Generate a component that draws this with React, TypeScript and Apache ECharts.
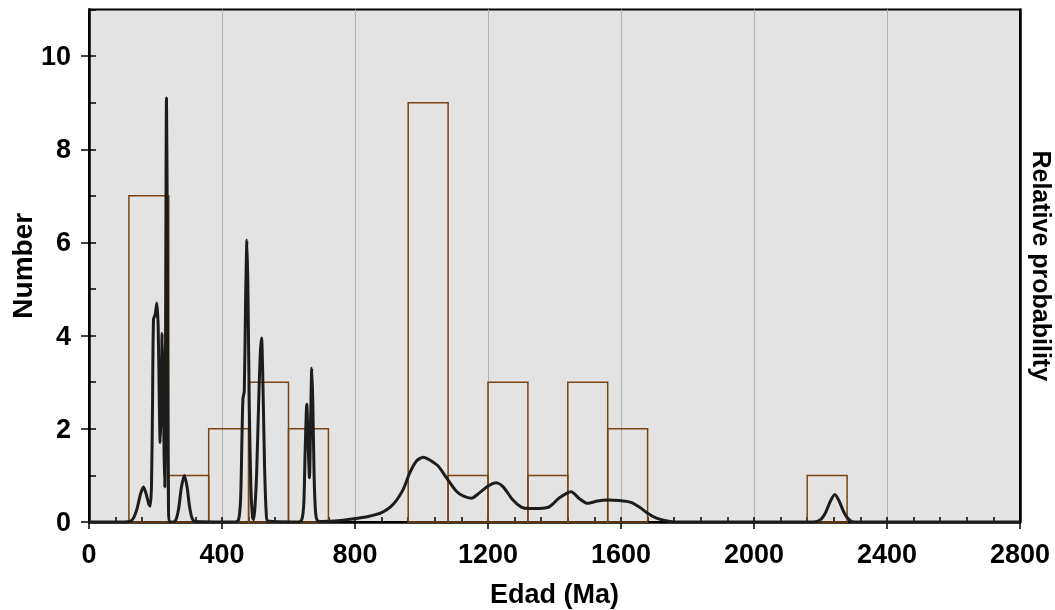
import React, { useEffect, useRef } from "react";
import * as echarts from "echarts";

const binStart = [120, 240, 360, 480, 600, 960, 1080, 1200, 1320, 1440, 1560, 2160];
const binEnd = [240, 360, 480, 600, 720, 1080, 1200, 1320, 1440, 1560, 1680, 2280];
const binCount = [7, 1, 2, 3, 2, 9, 1, 3, 1, 3, 2, 1];

const curveAge = [
  0, 100, 125, 135, 145, 155, 164, 172, 180, 184, 188, 191, 194, 199, 204, 208, 211, 214, 217, 220,
  223, 226, 228, 230, 233, 235, 237, 239, 242, 255, 263, 270, 278, 287, 295, 302, 309, 318, 440, 450,
  456, 460, 463, 467, 471, 475, 478, 482, 487, 492, 495, 499, 504, 510, 515, 519, 523, 528, 533, 538,
  630, 640, 646, 650, 655, 659, 663, 667, 670, 673, 677, 681, 686, 700, 740, 785, 840, 880, 915, 945,
  965, 985, 1005, 1025, 1050, 1075, 1105, 1125, 1150, 1175, 1200, 1225, 1245, 1275, 1300, 1325, 1355,
  1385, 1415, 1450, 1475, 1500, 1530, 1560, 1595, 1630, 1655, 1680, 1705, 1735, 1765, 2180, 2200, 2215,
  2230, 2243, 2256, 2271, 2286, 2300, 2800,
];
const curveValue = [
  0, 0, 0.02, 0.1, 0.3, 0.6, 0.75, 0.6, 0.38, 0.34, 0.8, 2.5, 4.35, 4.45, 4.7, 4.2, 2.8, 1.7, 2.4, 4.05,
  3.0, 1.4, 0.75, 3.5, 9.1, 7.0, 2.5, 0.3, 0, 0, 0.08, 0.3, 0.75, 1.0, 0.75, 0.35, 0.1, 0.01, 0, 0.05,
  0.5, 1.8, 2.65, 2.8, 4.8, 6.05, 5.0, 2.5, 0.7, 0.1, 0.05, 0.3, 1.0, 2.5, 3.6, 3.95, 3.0, 1.2, 0.2, 0.02,
  0, 0.05, 0.4, 1.5, 2.53, 1.7, 0.95, 2.4, 3.3, 2.6, 1.0, 0.25, 0.04, 0.01, 0.02, 0.06, 0.12, 0.2, 0.38, 0.7,
  1.06, 1.31, 1.39, 1.33, 1.2, 0.95, 0.66, 0.56, 0.51, 0.63, 0.77, 0.84, 0.76, 0.47, 0.32, 0.29, 0.29,
  0.33, 0.52, 0.65, 0.5, 0.4, 0.45, 0.47, 0.46, 0.42, 0.32, 0.19, 0.09, 0.03, 0, 0, 0.05, 0.2,
  0.45, 0.59, 0.45, 0.2, 0.05, 0, 0,
];

const xMin = 0;
const xMax = 2800;
const xMajor = 400;
const xMinor = 80;
const yMin = 0;
const yMax = 11;

const FONT = "'Liberation Sans', Arial, sans-serif";

export default function App() {
  const ref = useRef<HTMLDivElement>(null);
  useEffect(() => {
    if (!ref.current) return;
    const chart = echarts.init(ref.current, undefined, { renderer: "svg" });
    const bars = binStart.map((s, i) => [s, binEnd[i], binCount[i]]);
    const curve = curveAge.map((a, i) => [a, curveValue[i]]);
    chart.setOption({
      animation: false,
      grid: {
        left: 89,
        right: 35,
        top: 9.5,
        bottom: 88,
        containLabel: false,
        outerBoundsMode: "none",
        show: true,
        backgroundColor: "#e3e3e3",
        borderColor: "#000",
        borderWidth: 2,
      },
      xAxis: [
        {
          type: "value",
          min: xMin,
          max: xMax,
          interval: xMajor,
          position: "bottom",
          name: "Edad (Ma)",
          nameLocation: "middle",
          nameGap: 58,
          nameTextStyle: { fontFamily: FONT, fontWeight: "bold", fontSize: 27, color: "#000" },
          axisLine: { show: true, onZero: false, lineStyle: { color: "#000", width: 2.5 } },
          axisTick: { show: true, inside: false, length: 7, lineStyle: { color: "#000", width: 1.5 } },
          axisLabel: {
            margin: 18,
            fontFamily: FONT,
            fontWeight: "bold",
            fontSize: 27,
            color: "#000",
            formatter: (v: number) => String(v),
          },
          splitLine: { show: true, lineStyle: { color: "#b3b3b3", width: 1 } },
        },
        {
          type: "value",
          min: xMin,
          max: xMax,
          interval: xMinor,
          position: "bottom",
          axisLine: { show: false, onZero: false },
          axisTick: { show: true, inside: true, length: 5, lineStyle: { color: "#000", width: 1.5 } },
          axisLabel: { show: false },
          splitLine: { show: false },
        },
      ],
      yAxis: [
        {
          type: "value",
          min: yMin,
          max: yMax,
          interval: 2,
          position: "left",
          name: "Number",
          nameLocation: "middle",
          nameGap: 53,
          nameMoveOverlap: false,
          nameTextStyle: { fontFamily: FONT, fontWeight: "bold", fontSize: 28, color: "#000" },
          axisLine: { show: true, onZero: false, lineStyle: { color: "#000", width: 2.5 } },
          axisTick: { show: true, inside: false, length: 8, lineStyle: { color: "#000", width: 1.5 } },
          axisLabel: {
            margin: 18,
            fontFamily: FONT,
            fontWeight: "bold",
            fontSize: 27,
            color: "#000",
            showMaxLabel: false,
            formatter: (v: number) => (v > 10 ? "" : String(v)),
          },
          splitLine: { show: false },
        },
        {
          type: "value",
          min: yMin,
          max: yMax,
          interval: 1,
          position: "left",
          axisLine: { show: false, onZero: false },
          axisTick: { show: true, inside: true, length: 7, lineStyle: { color: "#000", width: 1.5 } },
          axisLabel: { show: false },
          splitLine: { show: false },
        },
        {
          type: "value",
          min: yMin,
          max: yMax,
          position: "right",
          name: "Relative probability",
          nameLocation: "middle",
          nameGap: 9,
          nameRotate: -90,
          nameTextStyle: { fontFamily: FONT, fontWeight: "bold", fontSize: 25, color: "#000" },
          axisLine: { show: true, onZero: false, lineStyle: { color: "#000", width: 2.5 } },
          axisTick: { show: false },
          axisLabel: { show: false },
          splitLine: { show: false },
        },
      ],
      series: [
        {
          type: "custom",
          name: "Histogram",
          xAxisIndex: 0,
          yAxisIndex: 0,
          data: bars,
          encode: { x: [0, 1], y: 2 },
          z: 2,
          renderItem: (params: any, api: any) => {
            const p0 = api.coord([api.value(0), 0]);
            const p1 = api.coord([api.value(1), api.value(2)]);
            return {
              type: "rect",
              shape: { x: p0[0], y: p1[1], width: p1[0] - p0[0], height: p0[1] - p1[1] },
              style: { fill: "none", stroke: "#7a4512", lineWidth: 1.5 },
            };
          },
        },
        {
          type: "line",
          name: "Probability",
          xAxisIndex: 0,
          yAxisIndex: 2,
          data: curve,
          showSymbol: false,
          smooth: 0.25,
          z: 3,
          lineStyle: { color: "#1c1c1c", width: 3 },
        },
      ],
    });
    return () => chart.dispose();
  }, []);
  return (
    <div
      ref={ref}
      style={{ position: "fixed", left: 0, top: 0, width: 1055, height: 610 }}
    />
  );
}
